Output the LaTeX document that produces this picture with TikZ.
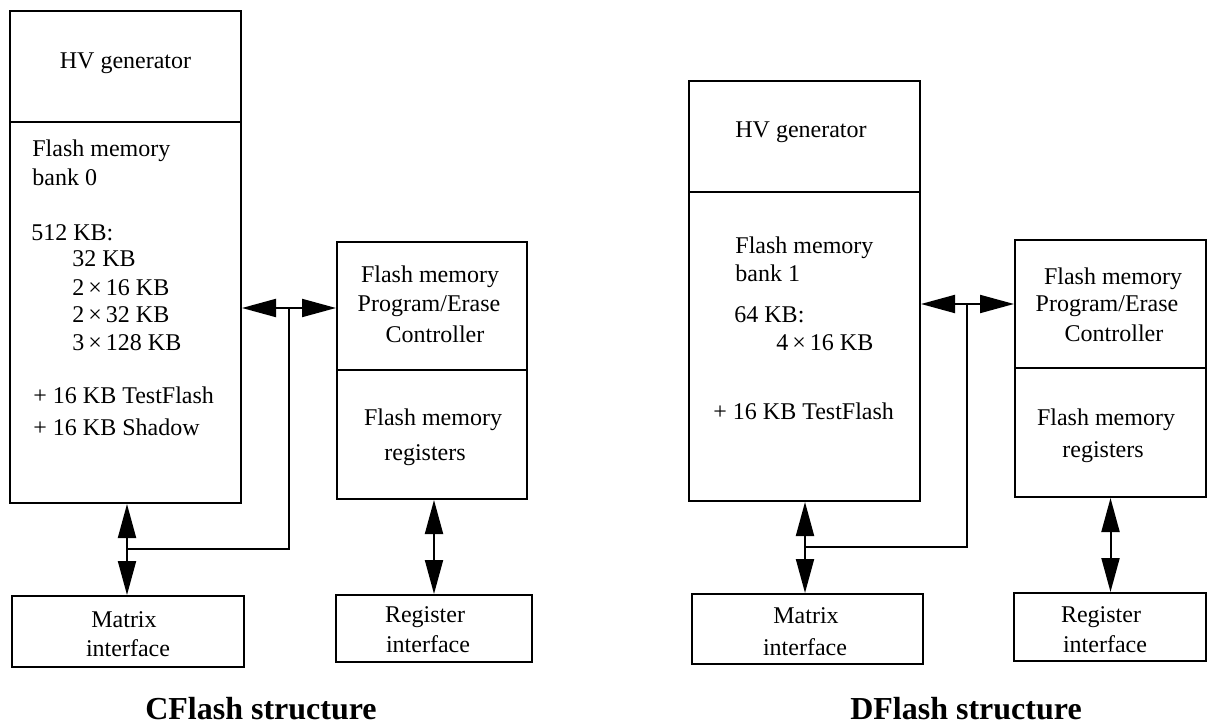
\documentclass[tikz,border=0pt]{standalone}
\usepackage{fontspec}
\setmainfont{Liberation Serif}
\usetikzlibrary{arrows.meta, positioning}
\tikzset{
  blk/.style={
    rectangle, draw=black, line width=1pt, fill=none, inner sep=0pt
  },
  lbl/.style={
    inner sep=0pt, font=\fontsize{12pt}{14pt}\selectfont, anchor=base west
  },
  clbl/.style={lbl, anchor=base},
  title/.style={
    inner sep=0pt, font=\fontsize{16pt}{19pt}\selectfont\bfseries, anchor=base
  },
  biarrow/.style={{Triangle[length=17pt,width=9pt]}-{Triangle[length=17pt,width=9pt]}, line width=1pt},
  bus/.style={line width=1pt}
}

\begin{document}
\begin{tikzpicture}[x=0.5pt, y=-0.5pt,
  tall/.style={blk, minimum width=115.5pt},
  side/.style={blk, minimum width=95pt, minimum height=64pt},
  iface/.style={blk, minimum height=35pt}
]
\useasboundingbox (0,0) rectangle (1208,726);

% CFlash: memory column
\node[tall, minimum height=55.5pt] (hvC) at (125.5,66.5) {};
\node[tall, minimum height=190.5pt] (bankC) at (125.5,312.5) {};
\node[clbl] (hvCt) at (125.5,69) {HV generator};
\node[lbl] (bkC1) at (32,157) {Flash memory};
\node[lbl] (bkC2) at (32,186) {bank 0};
\node[lbl] (bkC3) at (31,241) {512 KB:};
\node[lbl] (bkC4) at (72,267) {32 KB};
\node[lbl] (bkC5) at (72,296) {2\,×\,16 KB};
\node[lbl] (bkC6) at (72,323) {2\,×\,32 KB};
\node[lbl] (bkC7) at (72,351) {3\,×\,128 KB};
\node[lbl] (bkC8) at (33,404) {+ 16 KB TestFlash};
\node[lbl] (bkC9) at (33,436) {+ 16 KB Shadow};

% CFlash: controller column
\node[side] (ctrlC) at (432,306) {};
\node[side, minimum height=64.5pt] (regsC) at (432,434.5) {};
\node[clbl] (ctC1) at (430,283) {Flash memory};
\node[clbl] (ctC2) at (429,312) {Program/Erase};
\node[clbl] (ctC3) at (435,343) {Controller};
\node[clbl] (rgC1) at (433,425) {Flash memory};
\node[clbl] (rgC2) at (425,460) {registers};

% CFlash: interfaces
\node[iface, minimum width=116pt, minimum height=35.5pt] (matC) at (128,631.5) {};
\node[iface, minimum width=98pt, minimum height=33.5pt] (rifC) at (434,628.5) {};
\node[clbl] (maC1) at (124,627) {Matrix};
\node[clbl] (maC2) at (128,656) {interface};
\node[clbl] (riC1) at (425,622) {Register};
\node[clbl] (riC2) at (428,652) {interface};

\coordinate (jC) at (289,308);
\coordinate (tapC) at (127,549);
\draw[biarrow] (bankC.east |- jC) -- (ctrlC.west |- jC);
\draw[bus] (jC) |- (tapC);
\draw[biarrow] (bankC.south -| tapC) -- (matC.north -| tapC);
\draw[biarrow] (regsC.south -| rifC.north) -- (rifC.north);

\node[title] (capC) at (261,719) {CFlash structure};

% DFlash: memory column
\node[tall, minimum height=55.5pt] (hvD) at (804.5,136.5) {};
\node[tall, minimum height=154.5pt] (bankD) at (804.5,346.5) {};
\node[clbl] (hvDt) at (801,138) {HV generator};
\node[lbl] (bkD1) at (735,254) {Flash memory};
\node[lbl] (bkD2) at (735,282) {bank 1};
\node[lbl] (bkD3) at (734,323) {64 KB:};
\node[lbl] (bkD4) at (776,351) {4\,×\,16 KB};
\node[lbl] (bkD5) at (713,420) {+ 16 KB TestFlash};

% DFlash: controller column
\node[side, minimum width=95.5pt] (ctrlD) at (1110.5,304) {};
\node[side, minimum width=95.5pt, minimum height=64.5pt] (regsD) at (1110.5,432.5) {};
\node[clbl] (ctD1) at (1113,285) {Flash memory};
\node[clbl] (ctD2) at (1107,312) {Program/Erase};
\node[clbl] (ctD3) at (1114,342) {Controller};
\node[clbl] (rgD1) at (1106,425) {Flash memory};
\node[clbl] (rgD2) at (1103,458) {registers};

% DFlash: interfaces
\node[iface, minimum width=115.5pt] (matD) at (807.5,629) {};
\node[iface, minimum width=96pt, minimum height=34pt] (rifD) at (1110,627) {};
\node[clbl] (maD1) at (806,623) {Matrix};
\node[clbl] (maD2) at (805,655) {interface};
\node[clbl] (riD1) at (1101,622) {Register};
\node[clbl] (riD2) at (1105,652) {interface};

\coordinate (jD) at (967,304);
\coordinate (tapD) at (805,547);
\draw[biarrow] (bankD.east |- jD) -- (ctrlD.west |- jD);
\draw[bus] (jD) |- (tapD);
\draw[biarrow] (bankD.south -| tapD) -- (matD.north -| tapD);
\draw[biarrow] (regsD.south) -- (rifD.north -| regsD.south);

\node[title] (capD) at (966,719) {DFlash structure};

\end{tikzpicture}
\end{document}
